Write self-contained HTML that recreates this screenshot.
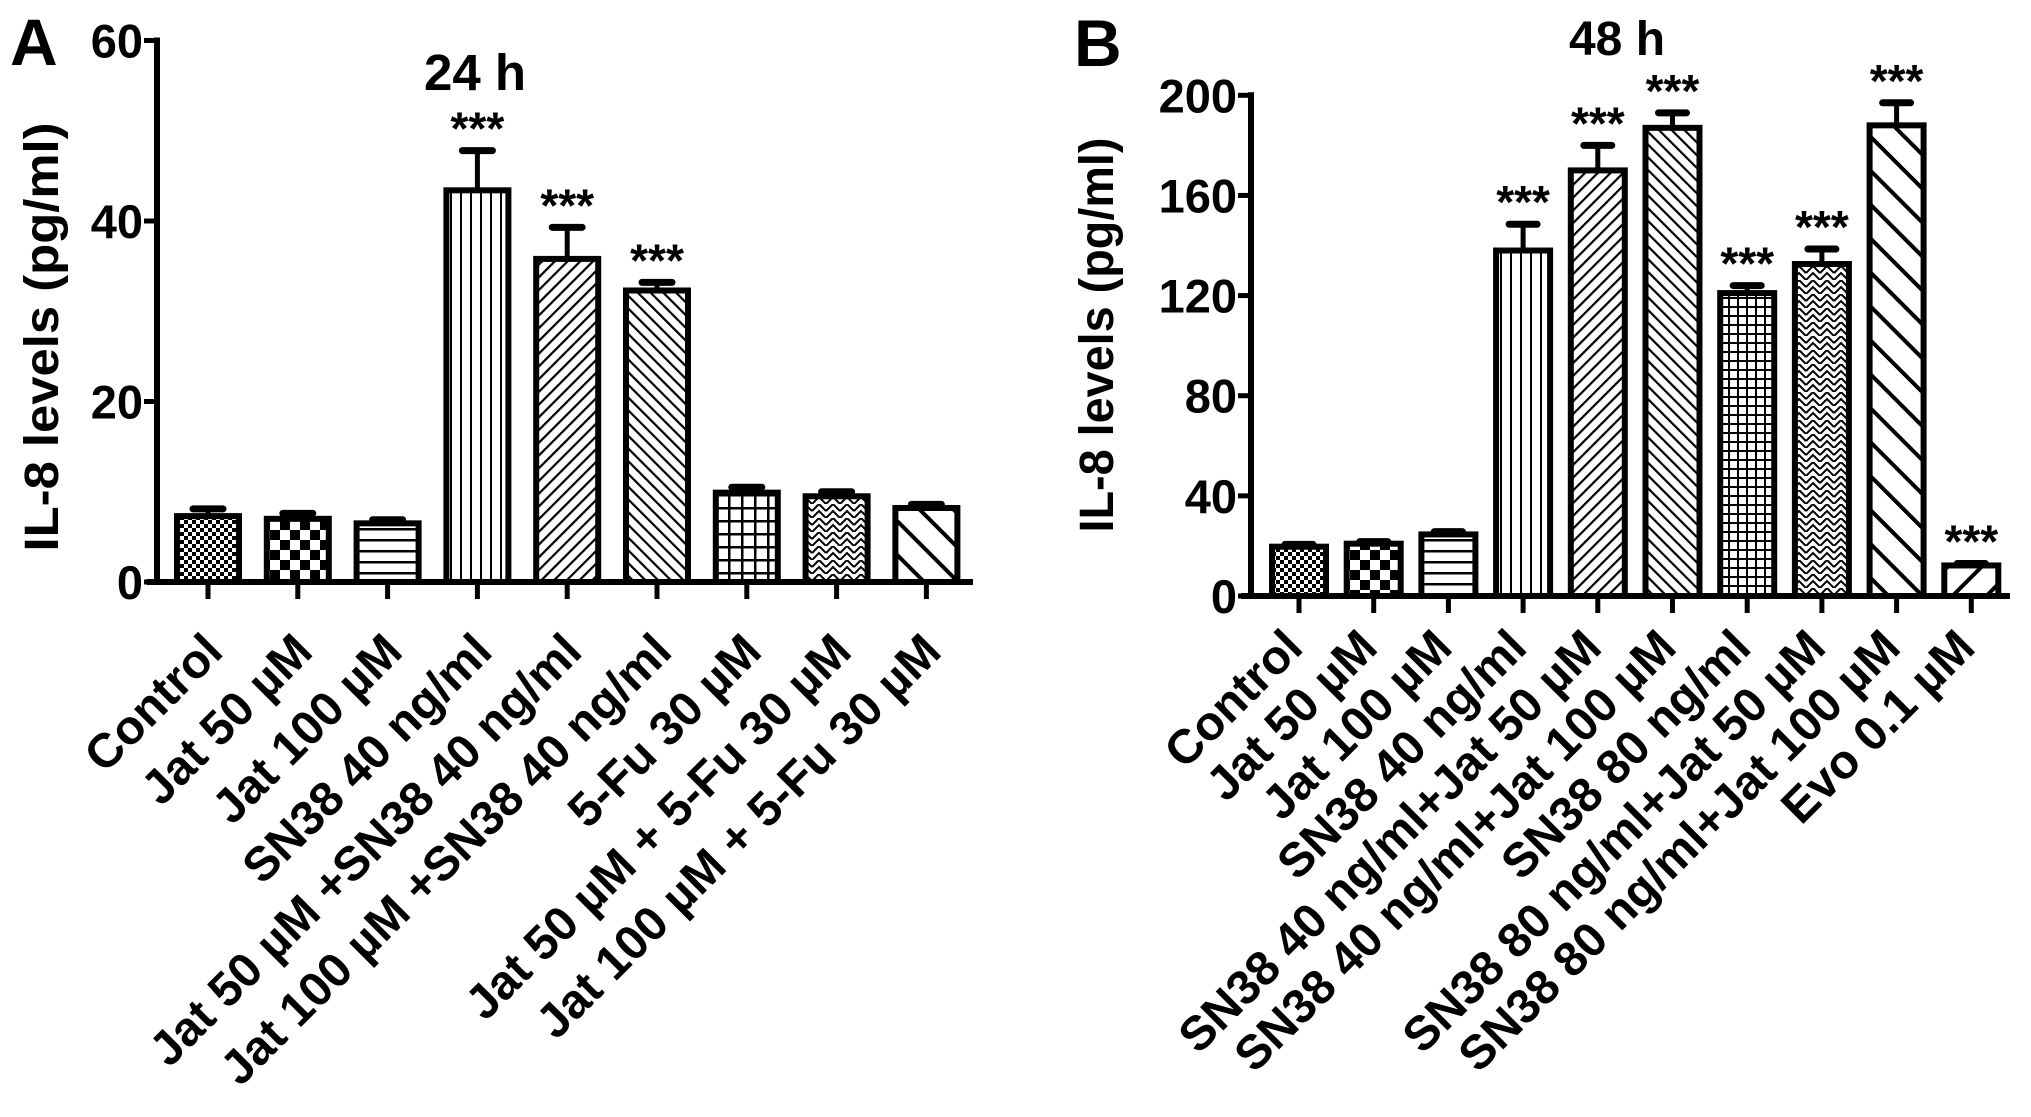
<!DOCTYPE html>
<html><head><meta charset="utf-8">
<style>
html,body{margin:0;padding:0;background:#fff;}
svg{display:block;}
text{font-family:"Liberation Sans",Arial,sans-serif;font-weight:bold;fill:#000;}
</style></head>
<body>
<svg id="fig" width="2031" height="1117" viewBox="0 0 2031 1117" xmlns="http://www.w3.org/2000/svg">
<defs>
<pattern id="p-fine-check" patternUnits="userSpaceOnUse" width="8" height="8"><rect width="8" height="8" fill="#fff"/><rect width="4" height="4" fill="#000"/><rect x="4" y="4" width="4" height="4" fill="#000"/></pattern>
<pattern id="p-big-check" patternUnits="userSpaceOnUse" width="20" height="20"><rect width="20" height="20" fill="#fff"/><rect width="10" height="10" fill="#000"/><rect x="10" y="10" width="10" height="10" fill="#000"/></pattern>
<pattern id="p-hlines" patternUnits="userSpaceOnUse" width="10" height="11"><rect width="10" height="11" fill="#fff"/><rect y="0" width="10" height="2.5" fill="#000"/></pattern>
<pattern id="p-vlines" patternUnits="userSpaceOnUse" width="10" height="10"><rect width="10" height="10" fill="#fff"/><rect x="0" width="2" height="10" fill="#000"/></pattern>
<pattern id="p-diag-fwd" patternUnits="userSpaceOnUse" width="9" height="9" patternTransform="rotate(45)"><rect width="9" height="9" fill="#fff"/><rect width="2.2" height="9" fill="#000"/></pattern>
<pattern id="p-diag-back" patternUnits="userSpaceOnUse" width="9" height="9" patternTransform="rotate(-45)"><rect width="9" height="9" fill="#fff"/><rect width="2.2" height="9" fill="#000"/></pattern>
<pattern id="p-grid" patternUnits="userSpaceOnUse" width="13" height="13"><rect width="13" height="13" fill="#fff"/><rect width="2.5" height="13" fill="#000"/><rect width="13" height="2.5" fill="#000"/></pattern>
<pattern id="p-grid-fine" patternUnits="userSpaceOnUse" width="9" height="9"><rect width="9" height="9" fill="#fff"/><rect width="2" height="9" fill="#000"/><rect width="9" height="2" fill="#000"/></pattern>
<pattern id="p-zigzag" patternUnits="userSpaceOnUse" width="14" height="14"><rect width="14" height="14" fill="#fff"/><path d="M0 7 L7 0 L14 7 M0 14 L7 7 L14 14" stroke="#000" stroke-width="2" fill="none"/></pattern>
<pattern id="p-wide-back" patternUnits="userSpaceOnUse" width="24" height="24" patternTransform="rotate(-45)"><rect width="24" height="24" fill="#fff"/><rect width="4" height="24" fill="#000"/></pattern>
<pattern id="p-wide-fwd" patternUnits="userSpaceOnUse" width="24" height="24" patternTransform="rotate(45)"><rect width="24" height="24" fill="#fff"/><rect width="4" height="24" fill="#000"/></pattern>
</defs>
</svg>
<script>
// ---- Panel A data (24 h) ----
const catsA = ["Control","Jat 50 \u00b5M","Jat 100 \u00b5M","SN38 40 ng/ml","Jat 50 \u00b5M +SN38 40 ng/ml","Jat 100 \u00b5M +SN38 40 ng/ml","5-Fu 30 \u00b5M","Jat 50 \u00b5M + 5-Fu  30 \u00b5M","Jat 100 \u00b5M + 5-Fu 30 \u00b5M"];
const meansA = [7.3, 7.0, 6.5, 43.4, 35.8, 32.3, 9.9, 9.5, 8.2];
const errsA = [0.8, 0.6, 0.4, 4.4, 3.5, 0.9, 0.6, 0.5, 0.4];
const sigA = [false,false,false,true,true,true,false,false,false];
const ticksA = [0,20,40,60];
// ---- Panel B data (48 h) ----
const catsB = ["Control","Jat 50 \u00b5M","Jat 100 \u00b5M","SN38 40 ng/ml","SN38 40 ng/ml+Jat 50 \u00b5M","SN38 40 ng/ml+Jat 100 \u00b5M","SN38 80 ng/ml","SN38 80 ng/ml+Jat 50 \u00b5M","SN38 80 ng/ml+Jat 100 \u00b5M","Evo 0.1 \u00b5M"];
const meansB = [19.7, 20.9, 24.6, 138, 170, 187, 121, 132.6, 188, 12.2];
const errsB = [0.9, 0.8, 1.1, 10.5, 10, 6, 3, 6, 9, 0.8];
const sigB = [false,false,false,true,true,true,true,true,true,true];
const ticksB = [0,40,80,120,160,200];

const patsA = ["p-fine-check","p-big-check","p-hlines","p-vlines","p-diag-fwd","p-diag-back","p-grid","p-zigzag","p-wide-back"];
const patsB = ["p-fine-check","p-big-check","p-hlines","p-vlines","p-diag-fwd","p-diag-back","p-grid-fine","p-zigzag","p-wide-back","p-wide-fwd"];

const NS = "http://www.w3.org/2000/svg";
const svg = document.getElementById('fig');
function mk(tag, attrs, parent){
  const e = document.createElementNS(NS, tag);
  for (const k in attrs) e.setAttribute(k, attrs[k]);
  (parent||svg).appendChild(e);
  return e;
}

function panel(cfg){
  const g = mk('g', {});
  
  
  const y = v => cfg.y0 - v * (cfg.y0 - cfg.yTop) / cfg.vmax;
  const x = i => cfg.x0 + i * cfg.step;
  const ya = mk('line', {x1:cfg.axX, y1:y(cfg.vmax)-3, x2:cfg.axX, y2:cfg.y0+3, stroke:'#000','stroke-width':6}, g);
  
  
  cfg.ticks.forEach(t => {
    const tl = mk('line', {x1:cfg.axX-13, y1:y(t), x2:cfg.axX, y2:y(t), stroke:'#000','stroke-width':5}, g);
    
    
    const tt = mk('text', {x:cfg.axX-14, y:y(t)+17, 'text-anchor':'end','font-size':47}, g);
    tt.textContent = t;
    
    
  });
  const xa = mk('line', {x1:cfg.axX-10, y1:cfg.y0, x2:cfg.xEnd, y2:cfg.y0, stroke:'#000','stroke-width':6}, g);
  
  
  cfg.cats.forEach((c,i) => {
    const cx = x(i);
    const v = cfg.means[i], e = cfg.errs[i];
    const top = y(v), etop = y(v+e);
    const eb = mk('line', {x1:cx, y1:etop, x2:cx, y2:top, stroke:'#000','stroke-width':5}, g);
    
    
    const cap = mk('line', {x1:cx-cfg.capW/2, y1:etop, x2:cx+cfg.capW/2, y2:etop, stroke:'#000','stroke-width':7,'stroke-linecap':'round'}, g);
    
    
    const r = mk('rect', {x:cx-cfg.barW/2, y:top, width:cfg.barW, height:cfg.y0-top, fill:'url(#'+cfg.pats[i]+')', stroke:'#000','stroke-width':6}, g);
    
    
    if (cfg.sig[i]) {
      const s = mk('text', {x:cx, y:etop-6, 'text-anchor':'middle','font-size':46}, g);
      s.textContent = '***';
      
      
    }
    const xt = mk('line', {x1:cx, y1:cfg.y0, x2:cx, y2:cfg.y0+17, stroke:'#000','stroke-width':5}, g);
    
    
    const lx = cx + cfg.lblDx, ly = cfg.y0 + cfg.lblDy;
    const lt = mk('text', {x:lx, y:ly, 'text-anchor':'end','font-size':48, transform:'rotate(-45 '+lx+' '+ly+')'}, g);
    lt.textContent = c;
    
    
  });
  const yt = mk('text', {x:0, y:0, 'text-anchor':'middle','font-size':48, textLength:cfg.ytLen, lengthAdjust:'spacingAndGlyphs', transform:'translate('+cfg.ytX+' '+cfg.ytY+') rotate(-90)'}, g);
  yt.textContent = 'IL-8 levels (pg/ml)';
  
  
  const ti = mk('text', {x:cfg.titleX, y:cfg.titleY, 'text-anchor':'middle','font-size':cfg.titleFs}, g);
  ti.textContent = cfg.title;
  
  
  const pl = mk('text', {x:cfg.letterX, y:cfg.letterY, 'font-size':66}, g);
  pl.textContent = cfg.letter;
  
  
}

panel({name:'panel-a-24h', cats:catsA, means:meansA, errs:errsA, sig:sigA, ticks:ticksA, pats:patsA,
  vmax:60, y0:582, yTop:40.5, axX:157, xEnd:973, x0:208, step:89.8, barW:62, capW:30,
  lblDx:17, lblDy:72, ytX:58, ytY:337, ytLen:429, title:'24 h', titleFs:51, titleX:475, titleY:90,
  letter:'A', letterX:10, letterY:65});
panel({name:'panel-b-48h', cats:catsB, means:meansB, errs:errsB, sig:sigB, ticks:ticksB, pats:patsB,
  vmax:200, y0:596, yTop:95.3, axX:1251, xEnd:2010, x0:1299, step:74.7, barW:54, capW:28,
  lblDx:6, lblDy:54, ytX:1113, ytY:335, ytLen:395, title:'48 h', titleFs:48, titleX:1617, titleY:55,
  letter:'B', letterX:1074, letterY:66});
</script>
</body></html>
